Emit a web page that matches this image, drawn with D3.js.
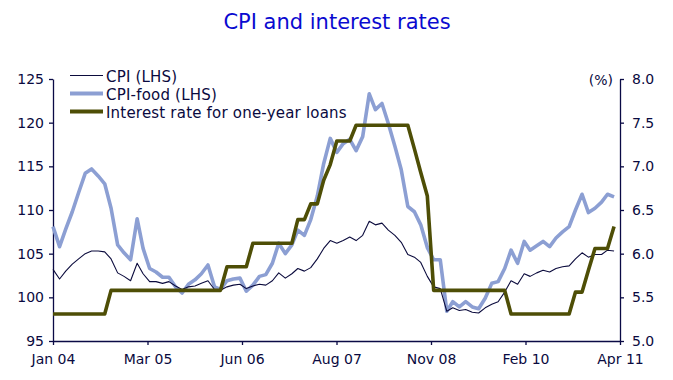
<!DOCTYPE html>
<html>
<head>
<meta charset="utf-8">
<script src="https://cdn.jsdelivr.net/npm/d3@7"></script>
<style>
  html, body { margin: 0; padding: 0; background: #ffffff; }
  svg { display: block; font-family: "DejaVu Sans", Verdana, sans-serif; }
</style>
</head>
<body>
<svg id="chart" width="673" height="380"></svg>
<script>
// ---------------- DATA ----------------
const chartTitle = "CPI and interest rates";
const seriesNames = ["CPI (LHS)", "CPI-food (LHS)", "Interest rate for one-year loans"];
const unitLabel = "(%)";

// monthly categories, Jan 2004 .. Apr 2011 (88 months)
const months = d3.timeMonth.range(new Date(2004, 0, 1), new Date(2011, 4, 1));

const cpi = [
  103.2, 102.1, 103.0, 103.8, 104.4, 105.0, 105.3, 105.3, 105.2, 104.4, 102.8, 102.4,
  101.9, 103.9, 102.7, 101.8, 101.8, 101.6, 101.8, 101.3, 100.9, 101.2, 101.3, 101.6,
  101.9, 100.9, 100.8, 101.2, 101.4, 101.5, 101.0, 101.3, 101.5, 101.4, 101.9, 102.8,
  102.2, 102.7, 103.3, 103.0, 103.4, 104.4, 105.6, 106.5, 106.2, 106.5, 106.9, 106.5,
  107.1, 108.7, 108.3, 108.5, 107.7, 107.1, 106.3, 104.9, 104.6, 104.0, 102.4, 101.2,
  101.0, 98.4, 98.8, 98.5, 98.6, 98.3, 98.2, 98.8, 99.2, 99.5, 100.6, 101.9,
  101.5, 102.7, 102.4, 102.8, 103.1, 102.9, 103.3, 103.5, 103.6, 104.4, 105.1, 104.6,
  104.9, 104.9, 105.4, 105.3
];

const cpiFood = [
  108.1, 105.8, 107.8, 109.8, 112.0, 114.2, 114.7, 113.9, 113.0, 110.2, 106.0, 105.1,
  104.3, 109.0, 105.6, 103.3, 102.9, 102.3, 102.3, 101.2, 100.5, 101.5, 102.0, 102.7,
  103.7, 101.2, 100.9, 101.9, 102.1, 102.2, 100.7, 101.4, 102.4, 102.6, 103.9, 106.2,
  105.0, 106.0, 107.7, 107.1, 108.9, 111.6, 115.3, 118.2, 116.6, 117.6, 118.1, 116.8,
  118.4, 123.3, 121.5, 122.2, 119.9, 117.3, 114.6, 110.4, 109.8, 108.3, 105.7, 104.3,
  104.3, 98.4, 99.5, 98.9, 99.5, 98.9, 98.7, 99.9, 101.6, 101.8, 103.3, 105.4,
  103.9, 106.4, 105.4, 105.9, 106.4, 105.8, 106.8, 107.5, 108.1, 110.0, 111.8, 109.7,
  110.2, 110.9, 111.8, 111.5
];

const loanRate = [
  5.31, 5.31, 5.31, 5.31, 5.31, 5.31, 5.31, 5.31, 5.31, 5.58, 5.58, 5.58,
  5.58, 5.58, 5.58, 5.58, 5.58, 5.58, 5.58, 5.58, 5.58, 5.58, 5.58, 5.58,
  5.58, 5.58, 5.58, 5.85, 5.85, 5.85, 5.85, 6.12, 6.12, 6.12, 6.12, 6.12,
  6.12, 6.12, 6.39, 6.39, 6.57, 6.57, 6.84, 7.02, 7.29, 7.29, 7.29, 7.47,
  7.47, 7.47, 7.47, 7.47, 7.47, 7.47, 7.47, 7.47, 7.20, 6.93, 6.66, 5.58,
  5.58, 5.58, 5.58, 5.58, 5.58, 5.58, 5.58, 5.58, 5.58, 5.58, 5.58, 5.31,
  5.31, 5.31, 5.31, 5.31, 5.31, 5.31, 5.31, 5.31, 5.31, 5.56, 5.56, 5.81,
  6.06, 6.06, 6.06, 6.31
];

const leftTicks = [95, 100, 105, 110, 115, 120, 125];
const rightTicks = [5.0, 5.5, 6.0, 6.5, 7.0, 7.5, 8.0];
const xTickLabels = ["Jan 04", "Mar 05", "Jun 06", "Aug 07", "Nov 08", "Feb 10", "Apr 11"];

// ---------------- STYLE ----------------
const colors = { cpi: "#0b0b3d", food: "#8c9fd3", rate: "#4e4e06", axis: "#0a0a45", text: "#0a0a40", title: "#0a0ad0" };

// ---------------- DRAW ----------------
const svg = d3.select("#chart");
const plotLeft = 53, plotRight = 620, plotTop = 79, plotBottom = 341;

const xStart = new Date(2004, 0, 1), xEnd = new Date(2011, 3, 29);
const x = d3.scaleTime().domain([xStart, xEnd]).range([plotLeft, plotRight]);
const yL = d3.scaleLinear().domain([95, 125]).range([plotBottom, plotTop]);
const yR = d3.scaleLinear().domain([5, 8]).range([plotBottom, plotTop]);

const xTickDates = d3.range(xTickLabels.length).map(k =>
  new Date(+xStart + k * (xEnd - xStart) / (xTickLabels.length - 1)));

svg.append("text")
  .attr("x", 337).attr("y", 22)
  .attr("text-anchor", "middle").attr("dominant-baseline", "central")
  .attr("font-size", 21).attr("fill", colors.title)
  .text(chartTitle);

function styleAxis(g) {
  g.selectAll("path.domain").attr("stroke", colors.axis).attr("stroke-width", 1.3);
  g.selectAll(".tick line").attr("stroke", colors.axis).attr("stroke-width", 1.3);
  g.selectAll(".tick text").attr("fill", colors.text).attr("font-size", 14)
    .attr("font-family", "DejaVu Sans, Verdana, sans-serif");
}

svg.append("g").attr("transform", `translate(${plotLeft},0)`)
  .call(d3.axisLeft(yL).tickValues(leftTicks).tickSize(4).tickSizeOuter(0).tickPadding(5))
  .call(styleAxis);

svg.append("g").attr("transform", `translate(${plotRight},0)`)
  .call(d3.axisRight(yR).tickValues(rightTicks).tickFormat(d3.format(".1f")).tickSize(4).tickSizeOuter(0).tickPadding(8))
  .call(styleAxis);

svg.append("g").attr("transform", `translate(0,${plotBottom})`)
  .call(d3.axisBottom(x).tickValues(xTickDates).tickFormat((d, i) => xTickLabels[i]).tickSize(4).tickSizeOuter(0).tickPadding(9))
  .call(styleAxis);

svg.append("text")
  .attr("x", 613).attr("y", 80)
  .attr("text-anchor", "end").attr("dominant-baseline", "central")
  .attr("font-size", 14).attr("fill", colors.text)
  .text(unitLabel);

const lineL = vals => d3.line().x((d, i) => x(months[i])).y(d => yL(d))(vals);
const lineR = vals => d3.line().x((d, i) => x(months[i])).y(d => yR(d))(vals);

svg.append("path").attr("d", lineL(cpiFood)).attr("fill", "none")
  .attr("stroke", colors.food).attr("stroke-width", 3.6).attr("stroke-linejoin", "round");
svg.append("path").attr("d", lineL(cpi)).attr("fill", "none")
  .attr("stroke", colors.cpi).attr("stroke-width", 1.1).attr("stroke-linejoin", "round");
svg.append("path").attr("d", lineR(loanRate)).attr("fill", "none")
  .attr("stroke", colors.rate).attr("stroke-width", 3.6).attr("stroke-linejoin", "round");

// legend
const legendItems = [
  { name: seriesNames[0], color: colors.cpi, width: 1.1 },
  { name: seriesNames[1], color: colors.food, width: 4 },
  { name: seriesNames[2], color: colors.rate, width: 4 }
];
const lg = svg.append("g");
legendItems.forEach((it, k) => {
  const yy = 75.5 + k * 18;
  lg.append("line").attr("x1", 70).attr("x2", 103).attr("y1", yy).attr("y2", yy)
    .attr("stroke", it.color).attr("stroke-width", it.width);
  lg.append("text").attr("x", 106).attr("y", yy + 1)
    .attr("dominant-baseline", "central").attr("font-size", 15)
    .attr("letter-spacing", 0.2).attr("fill", colors.text)
    .text(it.name);
});
</script>
</body>
</html>
